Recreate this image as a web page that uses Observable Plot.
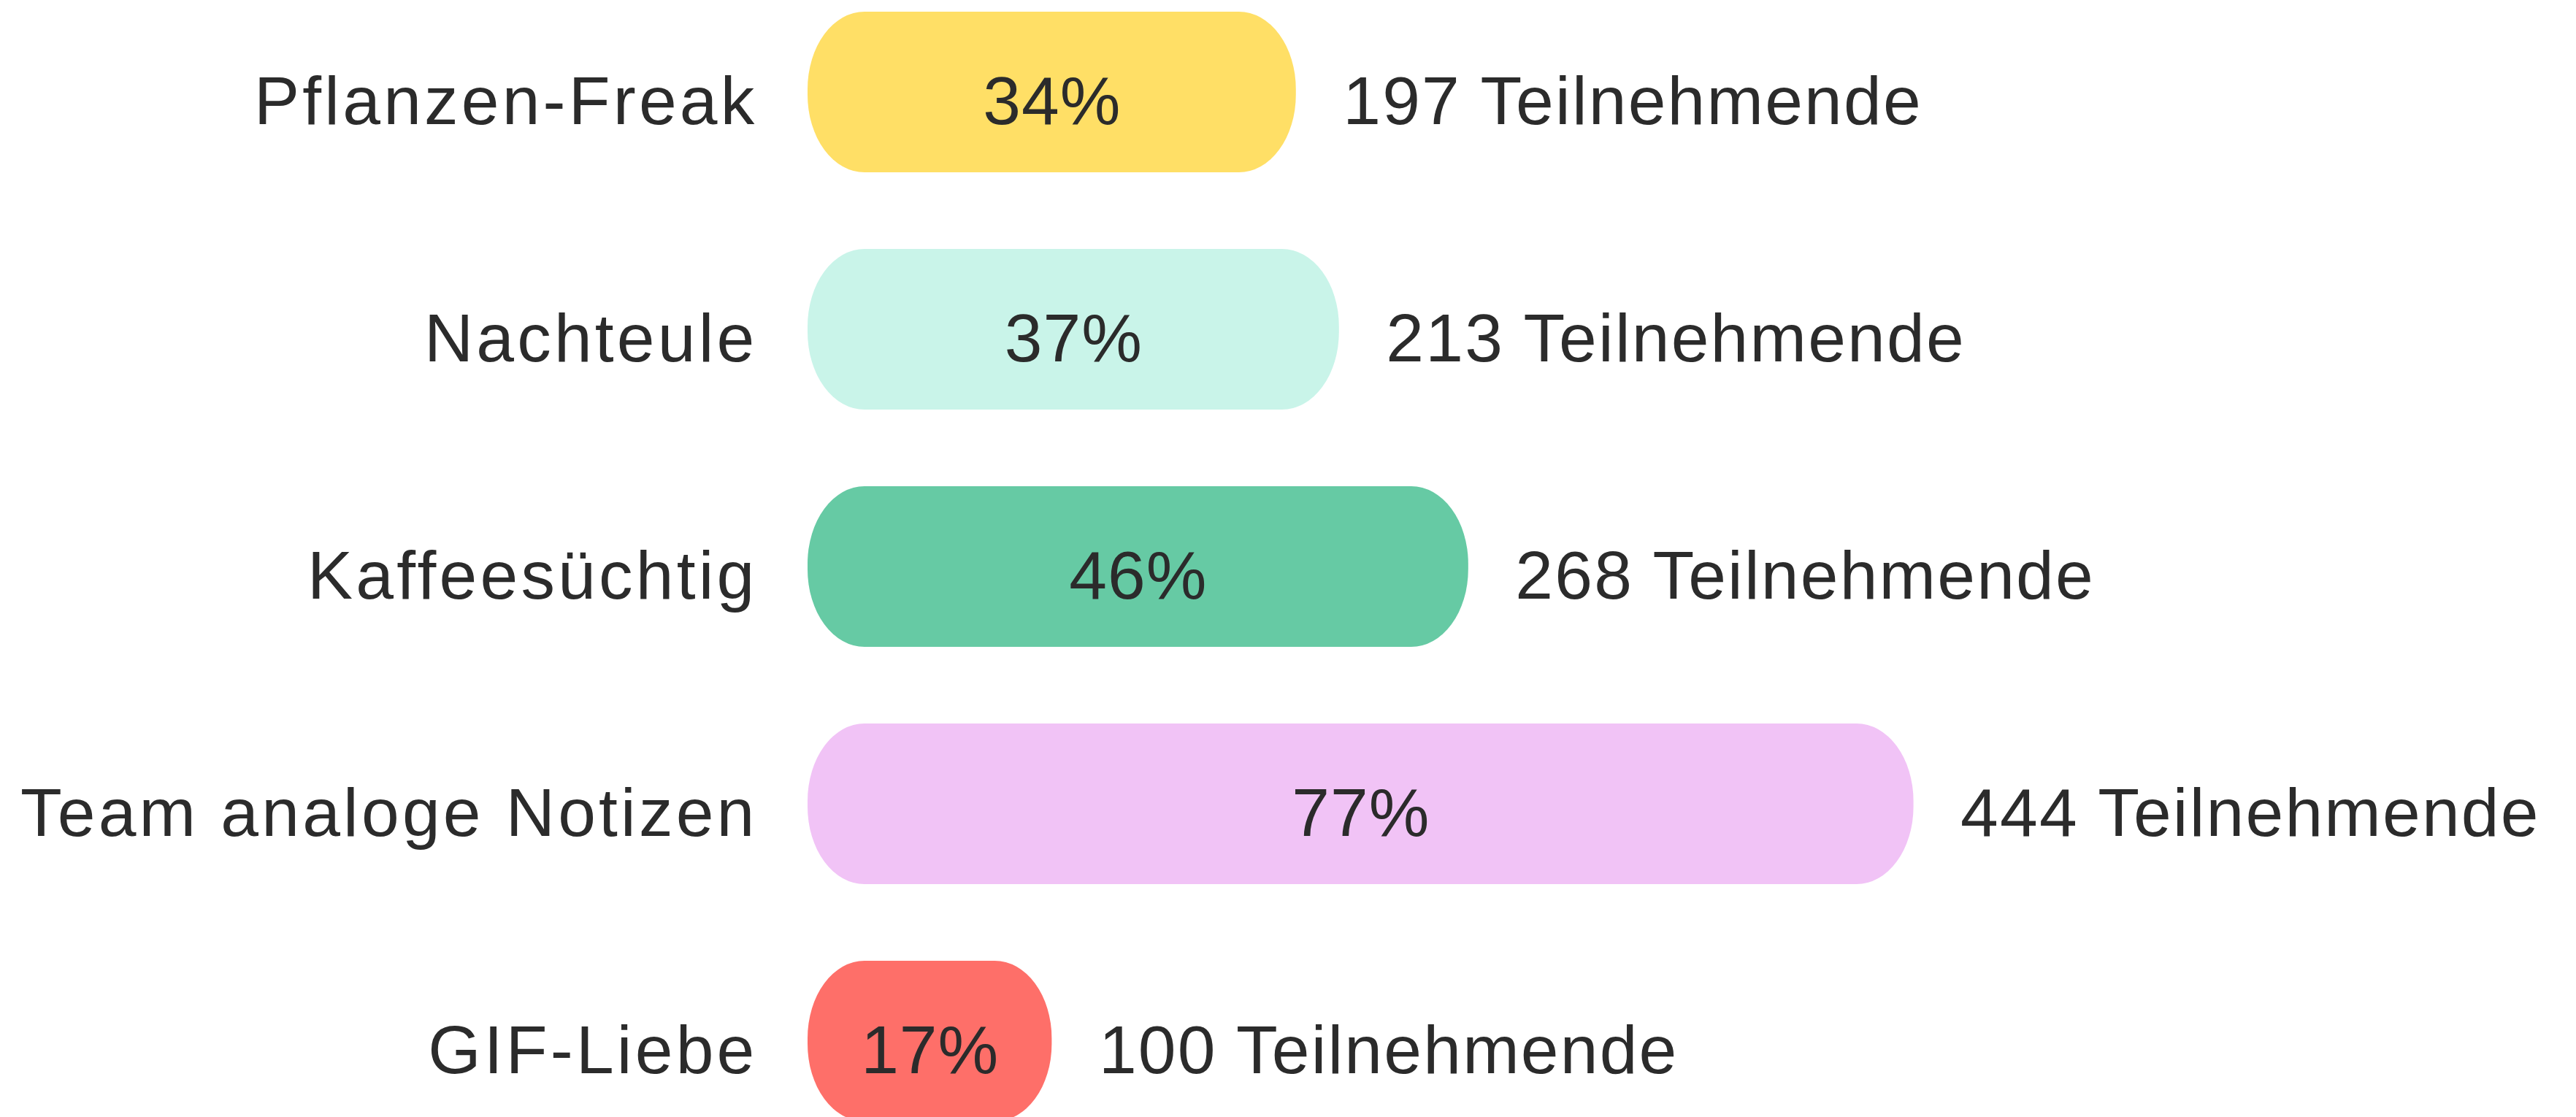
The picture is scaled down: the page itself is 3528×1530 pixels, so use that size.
<!DOCTYPE html>
<html>
<head>
<meta charset="utf-8">
<script src="https://cdn.jsdelivr.net/npm/d3@7"></script>
<script src="https://cdn.jsdelivr.net/npm/@observablehq/plot@0.6"></script>
<style>
  html, body { margin: 0; padding: 0; background: #fff; overflow: hidden; }
</style>
</head>
<body>
<div id="chart"></div>
<script>
const categories = ["Pflanzen-Freak", "Nachteule", "Kaffeesüchtig", "Team analoge Notizen", "GIF-Liebe"];
const percents = [34, 37, 46, 77, 17];
const participants = [197, 213, 268, 444, 100];
const colors = ["#FFDF66", "#C9F4E9", "#66CAA4", "#F1C3F6", "#FE6F69"];

const data = categories.map((c, i) => ({
  category: c,
  pct: percents[i],
  n: participants[i],
  color: colors[i]
}));

const font = "Liberation Sans, Arial, sans-serif";
const textColor = "#2b2b2b";

const chart = Plot.plot({
  width: 3528,
  height: 1530,
  marginLeft: 1106,
  marginRight: 455,
  marginTop: 0,
  marginBottom: 0,
  style: { fontFamily: font, background: "#fff" },
  x: { domain: [0, 100], axis: null },
  y: { domain: categories, range: [-36.5, 1588.5], paddingInner: 0.323, paddingOuter: 0.1615, axis: null },
  marks: [
    Plot.barX(data, { x: "pct", y: "category", fill: "color", rx: 78, ry: 106 }),
    Plot.text(data, { x: d => d.pct / 2, y: "category", text: d => d.pct + "%", textAnchor: "middle",
      dy: 14, fontSize: 93, fill: textColor }),
    Plot.text(data, { x: 0, y: "category", text: "category", textAnchor: "end", dx: -69, dy: 14, fontSize: 93, fill: textColor }),
    Plot.text(data, { x: "pct", y: "category", text: d => d.n + " Teilnehmende", textAnchor: "start", dx: 64, dy: 14, fontSize: 93, fill: textColor })
  ]
});
const spacings = ["1px", "4.2px", "2.2px"];
d3.select(chart).selectAll('g[aria-label="text"]').each(function (d, i) {
  if (spacings[i]) this.style.letterSpacing = spacings[i];
});
document.getElementById("chart").appendChild(chart);
</script>
</body>
</html>
